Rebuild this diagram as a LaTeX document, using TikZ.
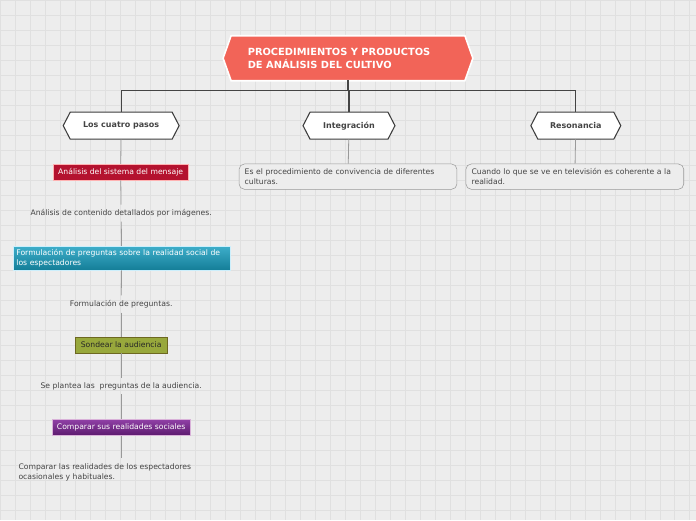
\documentclass[tikz,border=0pt]{standalone}
\usepackage{fontspec}
\setmainfont{DejaVu Sans}
\definecolor{bg}{HTML}{EDEDED}
\definecolor{gridc}{HTML}{E0E0E0}
\definecolor{rootc}{HTML}{F26458}
\definecolor{txt}{HTML}{444444}
\definecolor{redb}{HTML}{B4122F}
\definecolor{cyt}{HTML}{3EAECA}
\definecolor{cyb}{HTML}{147E98}
\definecolor{grb}{HTML}{98A83C}
\definecolor{put}{HTML}{9040A6}
\definecolor{pub}{HTML}{5C1A6E}
\newcommand{\hexshape}[6]{% x y halfw halfh notch style
  \path[#6] (#1-#3,#2) -- (#1-#3+#5,#2-#4) -- (#1+#3-#5,#2-#4) -- (#1+#3,#2) -- (#1+#3-#5,#2+#4) -- (#1-#3+#5,#2+#4) -- cycle;}
\begin{document}
\begin{tikzpicture}[x=0.75pt,y=-0.75pt,
  f/.style={font=\fontsize{5.75}{7}\selectfont},
  hexs/.style={draw=txt!90!black, fill=white, line width=0.8pt},
  hex/.style={rectangle, inner sep=0pt, font=\fontsize{6}{7}\selectfont\bfseries, text=txt},
  box/.style={f, minimum height=12pt, inner sep=0pt, text=white},
  plain/.style={f, text=txt, align=left},
  gl/.style={draw=gray!80, line width=0.6pt},
  dl/.style={draw=txt, line width=0.9pt}]
\fill[bg] (0,0) rectangle (696,520);
\draw[gridc, line width=0.4pt] (0,0) grid[step=11.25pt] (696,520);
\hexshape{348}{58}{125}{22.5}{8}{fill=rootc, draw=white, line width=1.2pt}
\node[rectangle, minimum width=187pt, minimum height=33pt, inner sep=0pt] (root) at (348,58) {};
\node[font=\fontsize{7.4}{9.5}\selectfont\bfseries, text=white, align=left, anchor=west] (rt) at (243,58.5) {PROCEDIMIENTOS Y PRODUCTOS\\DE ANÁLISIS DEL CULTIVO};
\hexshape{121}{125.5}{58}{13.5}{7}{hexs}
\hexshape{349}{125.5}{46}{13.5}{7}{hexs}
\hexshape{576}{125.5}{45}{13.5}{7}{hexs}
\node[hex, minimum width=87pt, minimum height=20pt] (p) at (121,125.5) {Los cuatro pasos};
\node[hex, minimum width=69pt, minimum height=20pt] (i) at (349,125.5) {Integración};
\node[hex, minimum width=67.5pt, minimum height=20pt] (r) at (576,125.5) {Resonancia};
\coordinate (j) at (348,90);
\draw[dl] (root.south) -- (j) -| (p.north);
\draw[dl] (j) -| (i.north);
\draw[dl] (j) -| (r.north);
\node[box, fill=redb, draw=red!30, minimum width=101pt] (a) at (120.5,172) {Análisis del sistema del mensaje};
\node[plain] (at) at (121,213) {Análisis de contenido detallados por imágenes.};
\node[box, top color=cyt, bottom color=cyb, draw=cyan!20, minimum width=163pt, minimum height=18pt, align=left, text width=158pt] (b) at (121.5,258) {Formulación de preguntas sobre la realidad social de\\los espectadores};
\node[plain] (bt) at (121,304) {Formulación de preguntas.};
\node[box, fill=grb, draw=olive!70!black, text=black!85, minimum width=69pt] (c) at (121,345) {Sondear la audiencia};
\node[plain] (ct) at (121,386) {Se plantea las\ \ preguntas de la audiencia.};
\node[box, top color=put, bottom color=pub, draw=violet!30, minimum width=103pt] (d) at (121,427.5) {Comparar sus realidades sociales};
\node[plain, anchor=west, inner sep=0pt] (dt) at (18,472.5) {Comparar las realidades de los espectadores\\ocasionales y habituales.};
\coordinate (dend) at (121,458);
\draw[gl] (p) -- (a);
\draw[gl] (a) -- (at);
\draw[gl] (at) -- (b);
\draw[gl] (b) -- (bt);
\draw[gl] (bt) -- (c);
\draw[gl] (c) -- (ct);
\draw[gl] (ct) -- (d);
\draw[gl] (d) -- (dend);
\node[f, rounded corners=4pt, draw=gray!80, fill=bg, text=txt, minimum width=163.5pt, minimum height=19pt, align=left, text width=155pt] (ic) at (348,176.5) {Es el procedimiento de convivencia de diferentes\\culturas.};
\node[f, rounded corners=4pt, draw=gray!80, fill=bg, text=txt, minimum width=163.5pt, minimum height=19pt, align=left, text width=155pt] (rc) at (575,176.5) {Cuando lo que se ve en televisión es coherente a la\\realidad.};
\draw[gl] (i) -- (ic);
\draw[gl] (r) -- (rc);
\end{tikzpicture}
\end{document}
